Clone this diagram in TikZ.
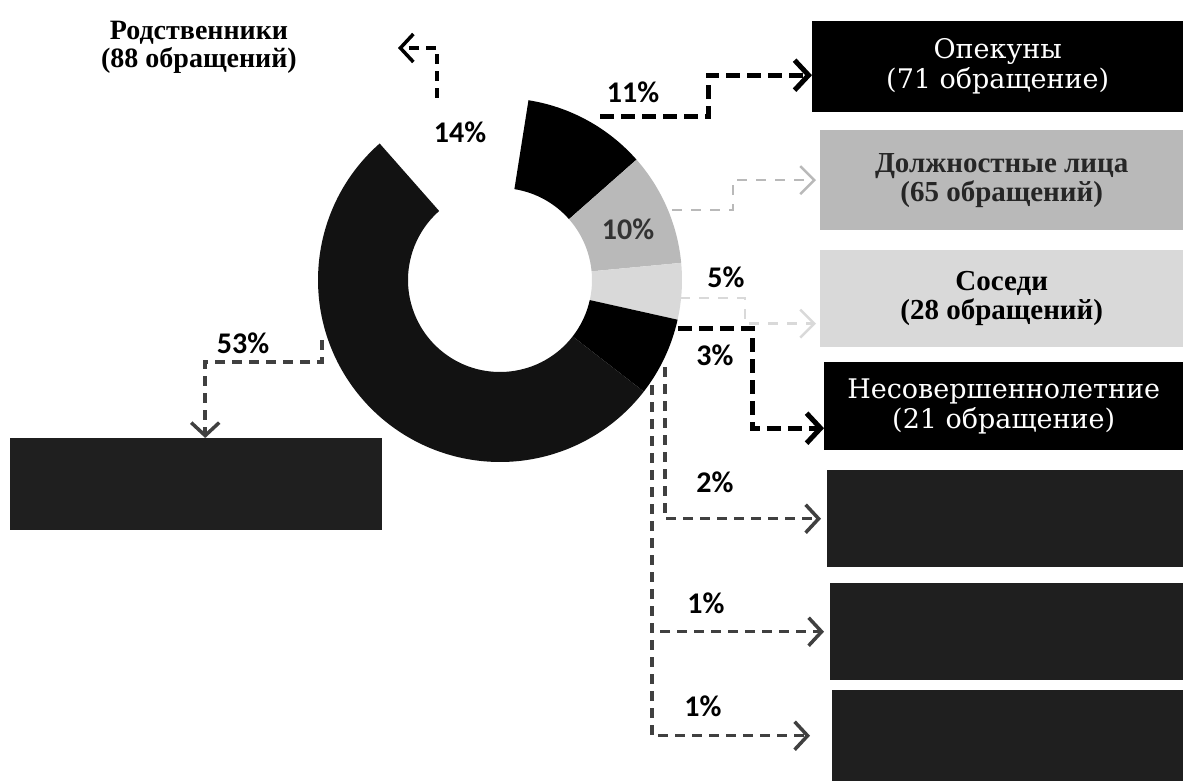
\documentclass[tikz,border=0pt]{standalone}
\usepackage{fontspec}
\setmainfont{DejaVu Serif}
\newfontfamily\pctfont{Carlito}
\newfontfamily\titlefont{Liberation Serif}
\usetikzlibrary{positioning}
\usetikzlibrary{arrows.meta}

\begin{document}
\begin{tikzpicture}[x=1pt,y=-1pt,
  pct/.style={font=\pctfont\bfseries\fontsize{30}{30}\selectfont,inner sep=0pt},
  title/.style={font=\titlefont\bfseries\fontsize{28}{28}\selectfont,align=center,inner sep=0pt},
  blackbox/.style={fill=black,text=white!80,font=\fontsize{27}{30}\selectfont,align=center,anchor=north west,inner sep=0pt},
  greybox/.style={fill=gray!55,text=black!85,title,font=\titlefont\bfseries\fontsize{29}{29}\selectfont,anchor=north west},
  darkbox/.style={fill=black!88,anchor=north west,inner sep=0pt},
  bigdash/.style={draw=black,line width=5pt,dash pattern=on 14pt off 7pt,-{Straight Barb[length=14pt,width=30pt]}},
  middash/.style={draw=black!75,line width=3.5pt,dash pattern=on 10pt off 7pt,-{Straight Barb[length=13pt,width=28pt]}},
  greydash/.style={draw=gray!55,line width=2.5pt,dash pattern=on 10pt off 9pt,-{Straight Barb[length=14pt,width=28pt]}}]
\useasboundingbox (0,0) rectangle (1183,781);

% donut
\begin{scope}[shift={(500,280)},y=1pt]
\fill[black] (81:92) arc[start angle=81,end angle=41.4,radius=92] -- (41.4:182) arc[start angle=41.4,end angle=81,radius=182] -- cycle;
\fill[gray!55] (41.4:92) arc[start angle=41.4,end angle=5.4,radius=92] -- (5.4:182) arc[start angle=5.4,end angle=41.4,radius=182] -- cycle;
\fill[gray!30] (5.4:92) arc[start angle=5.4,end angle=-12.6,radius=92] -- (-12.6:182) arc[start angle=-12.6,end angle=5.4,radius=182] -- cycle;
\fill[black] (-12.6:92) arc[start angle=-12.6,end angle=-37.8,radius=92] -- (-37.8:182) arc[start angle=-37.8,end angle=-12.6,radius=182] -- cycle;
\fill[black!93] (-37.8:92) arc[start angle=-37.8,end angle=-228.6,radius=92] -- (-228.6:182) arc[start angle=-228.6,end angle=-37.8,radius=182] -- cycle;
\end{scope}

% boxes
\node[title] (rod) at (199,47) {Родственники\\(88 обращений)};
\node[blackbox,minimum width=371pt,minimum height=91pt] (opek) at (812,21) {Опекуны\\(71 обращение)};
\node[greybox,minimum width=363pt,minimum height=100pt] (dolzh) at (820,130) {Должностные лица\\(65 обращений)};
\node[greybox,fill=gray!30,text=black,minimum width=363pt,minimum height=97pt] (sosedi) at (820,250) {Соседи\\(28 обращений)};
\node[blackbox,minimum width=359pt,minimum height=88pt] (nesov) at (824,362) {Несовершеннолетние\\(21 обращение)};
\node[darkbox,minimum width=356pt,minimum height=97pt] (box5) at (827,470) {};
\node[darkbox,minimum width=353pt,minimum height=97pt] (box6) at (830,583) {};
\node[darkbox,minimum width=351pt,minimum height=91pt] (box7) at (832,690) {};
\node[darkbox,minimum width=372pt,minimum height=92pt] (lbox) at (10,438) {};

% percentages
\node[pct] (p14) at (460,132) {14\%};
\node[pct] (p11) at (633,92) {11\%};
\node[pct,text=black!80] (p10) at (628,229) {10\%};
\node[pct] (p5) at (726,277) {5\%};
\node[pct] (p3) at (715,355) {3\%};
\node[pct] (p2) at (715,482) {2\%};
\node[pct] (p1a) at (706,603) {1\%};
\node[pct] (p1b) at (703,706) {1\%};
\node[pct] (p53) at (243,343) {53\%};

% connectors
\coordinate (s14) at (437,98);
\coordinate (t14) at (398,48);
\coordinate (s11) at (600,117);
\coordinate (s10) at (672,210);
\coordinate (s5) at (680,298);
\coordinate (s3) at (678,328);
\coordinate (s2) at (665,367);
\coordinate (s1) at (652,385);
\coordinate (s53) at (322,340);
\draw[middash,draw=black] (s14) |- (t14);
\draw[bigdash] (s11) -- ++(108,0) |- ([yshift=-8.5pt]opek.west);
\draw[greydash] (s10) -- ++(61,0) |- ([xshift=-4pt]dolzh.west);
\draw[greydash,draw=gray!30] (s5) -- ++(65,0) |- ([shift={(-4pt,-25pt)}]sosedi.west);
\draw[bigdash] (s3) -- ++(74,0) |- ([yshift=-22pt]nesov.west);
\draw[middash] (s2) |- ([xshift=-6pt]box5.west);
\draw[middash] (s1) |- ([xshift=-6pt]box6.west);
\draw[middash] (s1) |- ([xshift=-22pt]box7.west);
\draw[middash] (s53) -- ++(0,22) -| ([xshift=9pt]lbox.north);

\end{tikzpicture}
\end{document}
